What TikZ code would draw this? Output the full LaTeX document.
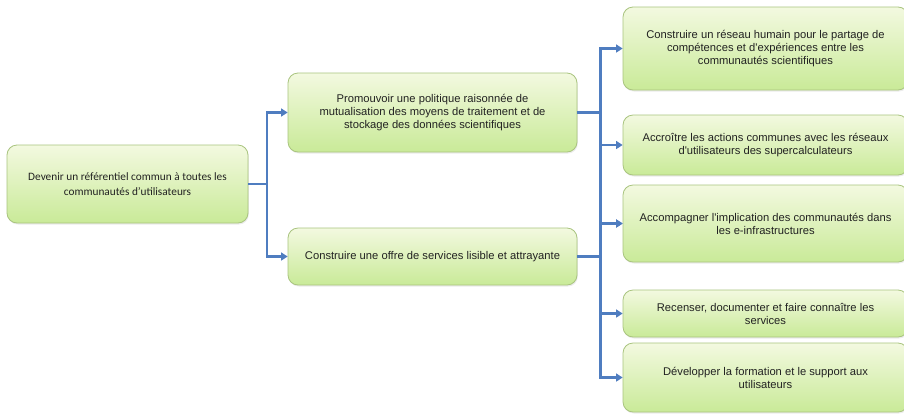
\documentclass[tikz,border=0pt]{standalone}
\usepackage{fontspec}
\setmainfont{Liberation Sans}
\newfontfamily\calib{Carlito}
\usetikzlibrary{arrows.meta,shadows}
\definecolor{boxtop}{HTML}{F3F9E0}
\definecolor{boxbot}{HTML}{C9EA98}
\definecolor{boxedge}{HTML}{A9C47F}
\definecolor{connblue}{HTML}{4F7DC0}
\definecolor{txt}{HTML}{222222}
\tikzset{
  box/.style={draw=boxedge, line width=0.8pt, rounded corners=10pt,
    top color=boxtop, bottom color=boxbot, align=center, text=txt,
    inner sep=2pt, font=\fontsize{11.2}{13}\selectfont,
    drop shadow={opacity=0.15, shadow xshift=0.8pt, shadow yshift=-1.5pt}},
  conn/.style={draw=connblue, line width=2.6pt,
    -{Triangle[length=6.5pt,width=8pt]}},
}
\begin{document}
\begin{tikzpicture}[x=1pt,y=-1pt]
\useasboundingbox[fill=white] (0,0) rectangle (904,413);
\begin{scope}
\clip (0,0) rectangle (904,413);
\node[box, minimum width=241pt, minimum height=78pt, font=\calib\fontsize{11.3}{14.5}\selectfont] (L) at (127.5,184)
  {Devenir un référentiel commun à toutes les\\communautés d’utilisateurs};
\node[box, minimum width=289pt, minimum height=79pt] (M1) at (432.5,112.5)
  {Promouvoir une politique raisonnée de\\mutualisation des moyens de traitement et de\\stockage des données scientifiques};
\node[box, minimum width=289pt, minimum height=57pt] (M2) at (432.5,256.5)
  {Construire une offre de services lisible et attrayante};
\node[box, minimum width=285pt, minimum height=83pt] (R1) at (765.5,48.5)
  {Construire un réseau humain pour le partage de\\compétences et d\textquotesingle expériences entre les\\communautés scientifiques};
\node[box, minimum width=285pt, minimum height=60pt] (R2) at (765.5,145)
  {Accroître les actions communes avec les réseaux\\d\textquotesingle utilisateurs des supercalculateurs};
\node[box, minimum width=285pt, minimum height=77pt] (R3) at (765.5,223.5)
  {Accompagner l\textquotesingle implication des communautés dans\\les e-infrastructures};
\node[box, minimum width=285pt, minimum height=47pt] (R4) at (765.5,313.5)
  {Recenser, documenter et faire connaître les\\services};
\node[box, minimum width=285pt, minimum height=69pt] (R5) at (765.5,377.5)
  {Développer la formation et le support aux\\utilisateurs};
\end{scope}
\coordinate (j1) at (267,0);
\coordinate (j2) at (600.5,0);
\draw[conn] (L.east) -- (L.east -| j1) |- (M1.west);
\draw[conn] (L.east) -- (L.east -| j1) |- (M2.west);
\draw[conn] (M1.east) -- (M1.east -| j2) |- (R1.west);
\draw[conn] (M1.east) -- (M1.east -| j2) |- (R2.west);
\draw[conn] (M1.east) -- (M1.east -| j2) |- (R3.west);
\draw[conn] (M2.east) -- (M2.east -| j2) |- (R3.west);
\draw[conn] (M2.east) -- (M2.east -| j2) |- (R4.west);
\draw[conn] (M2.east) -- (M2.east -| j2) |- (R5.west);
\end{tikzpicture}
\end{document}
